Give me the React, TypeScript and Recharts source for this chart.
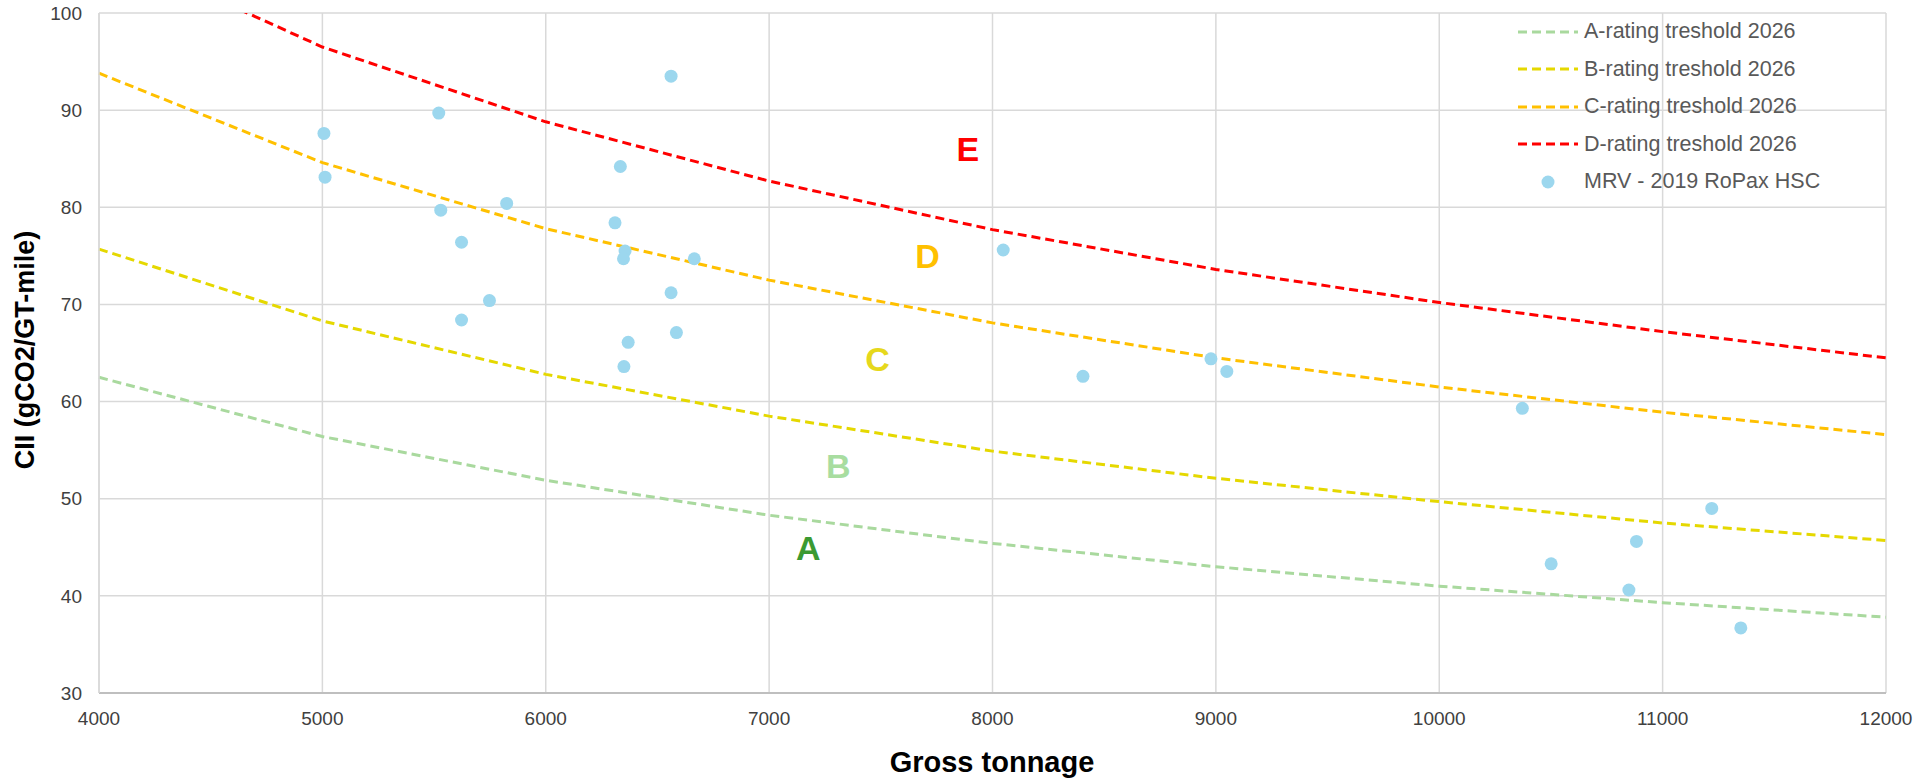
import { ComposedChart, Line, Scatter, XAxis, YAxis, CartesianGrid, Legend, Label } from 'recharts';

const gtSteps = [4000, 5000, 6000, 7000, 8000, 9000, 10000, 11000, 12000];
const ciiTicks = [30, 40, 50, 60, 70, 80, 90, 100];

// rating thresholds 2026, read at each 1000 GT
const aRating = [62.5, 56.4, 51.9, 48.3, 45.4, 43.0, 41.0, 39.3, 37.8];
const bRating = [75.7, 68.3, 62.8, 58.5, 54.9, 52.1, 49.7, 47.5, 45.7];
const cRating = [93.8, 84.6, 77.8, 72.5, 68.1, 64.5, 61.5, 58.9, 56.6];
const dRating = [106.9, 96.5, 88.8, 82.7, 77.7, 73.6, 70.2, 67.2, 64.5];

// MRV 2019 RoPax HSC ships
const mrvGT = [6561, 5521, 5007, 5012, 6334, 5825, 5530, 6310, 5623, 6355, 6348, 6665, 6561, 5748,
  5623, 6585, 6369, 6350, 8048, 8405, 8978, 9049, 10372, 11220, 10883, 10501, 10849, 11350];
const mrvCII = [93.5, 89.7, 87.6, 83.1, 84.2, 80.4, 79.7, 78.4, 76.4, 75.5, 74.7, 74.7, 71.2, 70.4,
  68.4, 67.1, 66.1, 63.6, 75.6, 62.6, 64.4, 63.1, 59.3, 49.0, 45.6, 43.3, 40.6, 36.7];

// zone letters
const zoneLetters = ['A', 'B', 'C', 'D', 'E'];
const zoneGT = [7175, 7310, 7485, 7709, 7890];
const zoneCII = [44.9, 53.4, 64.35, 75.0, 86.0];
const zoneColors = ['#3b9a32', '#a8dda0', '#e6d81c', '#ffc000', '#ff0000'];

const toPoints = (ys: number[]) => gtSteps.map((gt, i) => ({ gt, cii: ys[i] }));

const thresholds = [
  { name: 'A-rating treshold 2026', data: toPoints(aRating), color: '#a9d99e' },
  { name: 'B-rating treshold 2026', data: toPoints(bRating), color: '#e5d800' },
  { name: 'C-rating treshold 2026', data: toPoints(cRating), color: '#ffc000' },
  { name: 'D-rating treshold 2026', data: toPoints(dRating), color: '#ff0000' },
];
const mrvData = mrvGT.map((gt, i) => ({ gt, cii: mrvCII[i] }));
const zoneData = zoneLetters.map((l, i) => ({ gt: zoneGT[i], cii: zoneCII[i], letter: l, color: zoneColors[i] }));

const dotColor = '#9cd7ee';
const font = '"Liberation Sans", Arial, sans-serif';

function LegendBox() {
  return (
    <div style={{ fontFamily: font, fontSize: 21.5, color: '#595959' }}>
      {thresholds.map((t) => (
        <div key={t.name} style={{ height: 37.5, display: 'flex', alignItems: 'center' }}>
          <svg width={66} height={10}>
            <line x1={0} y1={5} x2={60} y2={5} stroke={t.color} strokeWidth={3} strokeDasharray="9 5" />
          </svg>
          <span>{t.name}</span>
        </div>
      ))}
      <div style={{ height: 37.5, display: 'flex', alignItems: 'center' }}>
        <svg width={66} height={14}>
          <circle cx={30} cy={7} r={6.5} fill={dotColor} />
        </svg>
        <span>MRV - 2019 RoPax HSC</span>
      </div>
    </div>
  );
}

export default function App() {
  return (
    <div style={{ position: 'absolute', left: 0, top: 0, background: '#fff' }}>
      <ComposedChart width={1913} height={779} margin={{ top: 13, right: 27, bottom: 0, left: 0 }}>
        <CartesianGrid stroke="#d9d9d9" strokeWidth={1.5} />
        <XAxis
          type="number"
          dataKey="gt"
          domain={[4000, 12000]}
          ticks={gtSteps}
          height={86}
          tickLine={false}
          tickSize={0}
          tickMargin={19}
          axisLine={{ stroke: '#bfbfbf', strokeWidth: 2 }}
          tick={{ fontSize: 19, fill: '#404040', fontFamily: font }}
        >
          <Label
            content={() => (
              <text x={992} y={762} textAnchor="middle" dominantBaseline="central"
                fontFamily={font} fontWeight="bold" fontSize={29} fill="#000">Gross tonnage</text>
            )}
          />
        </XAxis>
        <YAxis
          type="number"
          dataKey="cii"
          domain={[30, 100]}
          ticks={ciiTicks}
          allowDataOverflow
          width={99}
          tickLine={false}
          tickSize={0}
          tickMargin={17}
          axisLine={{ stroke: '#d9d9d9', strokeWidth: 1.5 }}
          tick={{ fontSize: 19, fill: '#404040', fontFamily: font }}
        >
          <Label
            content={() => (
              <text x={25} y={350} transform="rotate(-90 25 350)" textAnchor="middle" dominantBaseline="central"
                fontFamily={font} fontWeight="bold" fontSize={27} fill="#000">CII (gCO2/GT-mile)</text>
            )}
          />
        </YAxis>
        {thresholds.map((t) => (
          <Line
            key={t.name}
            name={t.name}
            data={t.data}
            dataKey="cii"
            type="linear"
            stroke={t.color}
            strokeWidth={3}
            strokeDasharray="9 5"
            dot={false}
            activeDot={false}
            isAnimationActive={false}
          />
        ))}
        <Scatter
          name="MRV - 2019 RoPax HSC"
          data={mrvData}
          dataKey="cii"
          fill={dotColor}
          shape={(p: any) => <circle cx={p.cx} cy={p.cy} r={6.5} fill={dotColor} />}
          isAnimationActive={false}
        />
        <Scatter
          name="zones"
          data={zoneData}
          dataKey="cii"
          legendType="none"
          shape={(p: any) => (
            <text x={p.cx} y={p.cy} textAnchor="middle" dominantBaseline="central"
              fontFamily={font} fontWeight="bold" fontSize={34} fill={p.payload.color}>{p.payload.letter}</text>
          )}
          isAnimationActive={false}
        />
        <Legend
          layout="vertical"
          align="center"
          verticalAlign="middle"
          content={() => <LegendBox />}
          wrapperStyle={{ position: 'absolute', left: 1518, top: 13, width: 390, height: 190 }}
        />
      </ComposedChart>
    </div>
  );
}
